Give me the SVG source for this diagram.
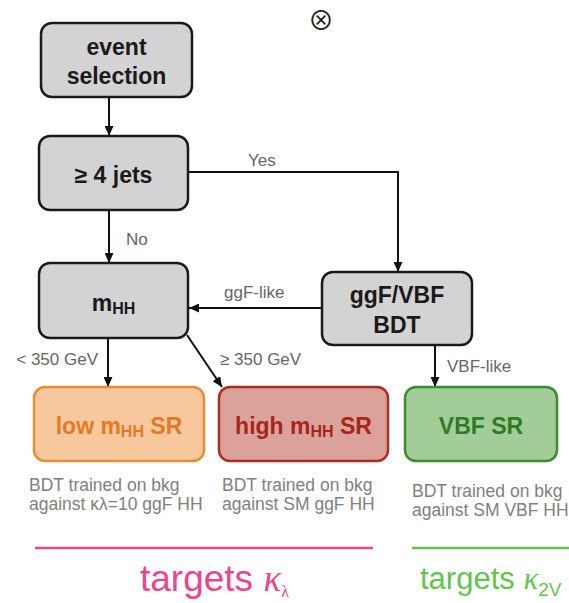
<svg xmlns="http://www.w3.org/2000/svg" width="569" height="603" viewBox="0 0 569 603">
<defs>
<marker id="ah" markerWidth="10" markerHeight="9" refX="10" refY="4.5" orient="auto" markerUnits="userSpaceOnUse">
<path d="M0,0 L10,4.5 L0,9 z" fill="#111"/>
</marker>
<style>
.box{fill:#d3d3d3;stroke:#1a1a1a;stroke-width:2.5}
.bt{font-family:"Liberation Sans",Arial,sans-serif;font-weight:bold;font-size:23px;fill:#1a1a1a;text-anchor:middle}
.el{font-family:"Liberation Sans",Arial,sans-serif;font-size:17px;fill:#666}
.cap{font-family:"Liberation Sans",Arial,sans-serif;font-size:17.5px;fill:#808080}
.con{fill:none;stroke:#111;stroke-width:2;marker-end:url(#ah)}
</style>
</defs>
<rect width="569" height="603" fill="#fff"/>
<text x="321" y="30" font-family="'Noto Sans CJK JP','DejaVu Sans',sans-serif" font-size="26" text-anchor="middle" fill="#222">⊗</text>

<g id="connectors">
<line class="con" x1="109" y1="97" x2="109" y2="136"/>
<line class="con" x1="109" y1="210" x2="109" y2="263"/>
<path class="con" d="M188 172 H398 V272"/>
<line class="con" x1="322" y1="308" x2="189" y2="308"/>
<line class="con" x1="108" y1="338" x2="108" y2="387"/>
<line class="con" x1="187" y1="335" x2="222" y2="387"/>
<line class="con" x1="435" y1="345" x2="435" y2="387"/>
<text class="el" x="248" y="166">Yes</text>
<text class="el" x="126" y="245">No</text>
<text class="el" x="224" y="298">ggF-like</text>
<text class="el" x="98" y="365" text-anchor="end">&lt; 350 GeV</text>
<text class="el" x="220" y="365">≥ 350 GeV</text>
<text class="el" x="447" y="372">VBF-like</text>
</g>

<g id="event-selection">
<rect class="box" x="41" y="23" width="151" height="74" rx="11"/>
<text class="bt" x="116.5" y="55">event</text>
<text class="bt" x="116.5" y="84">selection</text>
</g>
<g id="jets">
<rect class="box" x="39" y="136" width="149" height="74" rx="11"/>
<text class="bt" x="113.5" y="183">≥ 4 jets</text>
</g>
<g id="mhh">
<rect class="box" x="39" y="263" width="149" height="75" rx="11"/>
<text class="bt" x="113.5" y="311">m<tspan font-size="16" dy="3">HH</tspan></text>
</g>
<g id="bdt">
<rect class="box" x="322" y="272" width="150" height="73" rx="11"/>
<text class="bt" x="397" y="303">ggF/VBF</text>
<text class="bt" x="397" y="333">BDT</text>
</g>
<g id="low-sr">
<rect x="34" y="387" width="170" height="74" rx="11" fill="#f7c89d" stroke="#ea8c32" stroke-width="2.5"/>
<text class="bt" x="119" y="434" style="fill:#e27a26">low m<tspan font-size="16" dy="3">HH</tspan><tspan dy="-3"> SR</tspan></text>
<text class="cap" x="29" y="491">BDT trained on bkg</text>
<text class="cap" x="29" y="510">against κλ=10 ggF HH</text>
</g>
<g id="high-sr">
<rect x="219" y="387" width="169" height="74" rx="11" fill="#dba29c" stroke="#b02b22" stroke-width="2.5"/>
<text class="bt" x="303.5" y="434" style="fill:#a9241b">high m<tspan font-size="16" dy="3">HH</tspan><tspan dy="-3"> SR</tspan></text>
<text class="cap" x="222" y="491">BDT trained on bkg</text>
<text class="cap" x="222" y="510">against SM ggF HH</text>
</g>
<g id="vbf-sr">
<rect x="405" y="387" width="152" height="74" rx="11" fill="#a2cd98" stroke="#3e8a33" stroke-width="2.5"/>
<text class="bt" x="481" y="434" style="fill:#2f7c28">VBF SR</text>
<text class="cap" x="412" y="497">BDT trained on bkg</text>
<text class="cap" x="412" y="516">against SM VBF HH</text>
</g>

<g id="targets">
<line x1="35" y1="548" x2="373" y2="548" stroke="#e8468e" stroke-width="2.5"/>
<line x1="412" y1="548" x2="569" y2="548" stroke="#64c44c" stroke-width="2.5"/>
<text x="140" y="591" font-family="Liberation Sans,Arial,sans-serif" font-size="37" fill="#e8468e">targets <tspan font-family="Liberation Serif,serif" font-style="italic">κ</tspan><tspan font-family="Liberation Serif,serif" font-size="16" dy="6">λ</tspan></text>
<text x="420" y="589" font-family="Liberation Sans,Arial,sans-serif" font-size="31" fill="#64c44c">targets <tspan font-family="Liberation Serif,serif" font-style="italic">κ</tspan><tspan font-size="19" dy="7">2V</tspan></text>
</g>
</svg>
